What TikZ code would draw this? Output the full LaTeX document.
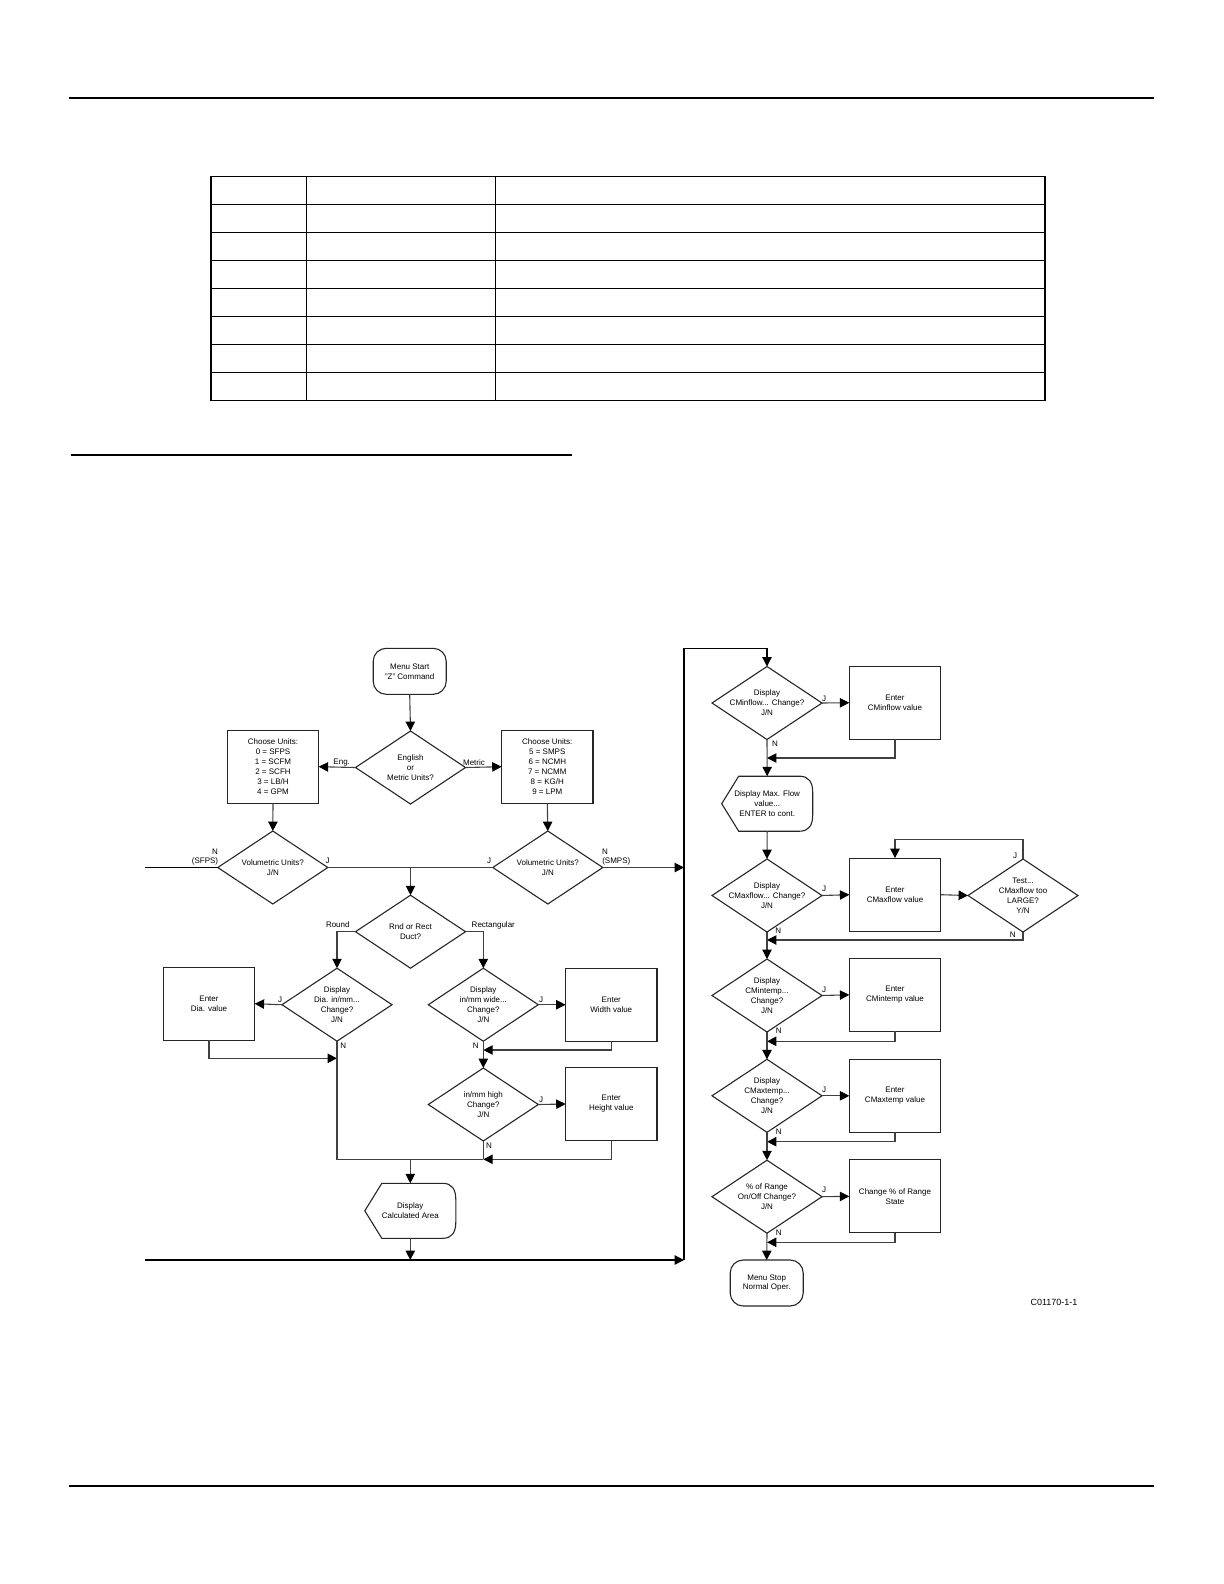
\documentclass[tikz,border=0pt]{standalone}
\usepackage{fontspec}
\setmainfont{Liberation Sans}
\usetikzlibrary{arrows.meta,shapes.geometric,calc}
\newcommand\fcfont{\fontsize{4bp}{4.95bp}\selectfont}
\newcommand\dispshape[1]{%
  \draw[shp] (#1.west) -- ($(#1.north west)+(17,0)$) -- ($(#1.north east)+(-13,0)$)
    .. controls ($(#1.north east)+(-4,0)$) and ($(#1.north east)+(0,6)$) .. ($(#1.north east)+(0,16)$)
    -- ($(#1.south east)+(0,-16)$)
    .. controls ($(#1.south east)+(0,-6)$) and ($(#1.south east)+(-4,0)$) .. ($(#1.south east)+(-13,0)$)
    -- ($(#1.south west)+(17,0)$) -- cycle;}
\tikzset{
  shp/.style={draw=black!85, line width=0.55bp},
  conn/.style={draw=black!75, line width=0.55bp},
  mainline/.style={draw=black, line width=0.6bp},
  tbl/.style={draw=black, line width=0.6bp},
  arr/.style={conn, -{Triangle[length=4.7bp,width=4.7bp,black]}},
  dec/.style={diamond, shp, aspect=1.5, inner xsep=-6bp, inner ysep=-3bp, outer sep=0pt,
    minimum width=55bp, minimum height=36.5bp, align=center, font=\fcfont},
  boxn/.style={rectangle, shp, inner sep=0pt, outer sep=0pt, minimum width=45.7bp,
    minimum height=36.6bp, align=center, font=\fcfont},
  term/.style={rectangle, shp, rounded corners=6.5bp, inner sep=0pt, outer sep=0pt,
    minimum width=36.5bp, minimum height=23bp, align=center, font=\fcfont},
  disp/.style={rectangle, draw=none, inner sep=0pt, outer sep=0pt, minimum width=45.5bp,
    minimum height=27.5bp, align=center, font=\fcfont},
  lbl/.style={font=\fcfont, inner sep=0pt},
}
\begin{document}
\begin{tikzpicture}[x=0.5bp,y=-0.5bp]
\useasboundingbox (0,0) rectangle (1224,1584);
% page rules
\draw[line width=1bp] (69,98) -- (1154,98);
\draw[line width=1bp] (69,1485.5) -- (1154,1485.5);
\draw[line width=0.7bp] (71,455) -- (572,455);
% empty table
\draw[tbl] (211,176.3) rectangle (1045,400.3);
\foreach \yy in {204.3,232.3,260.3,288.3,316.3,344.3,372.3}
  \draw[tbl] (211,\yy) -- (1045,\yy);
\foreach \xx in {306.5,495.3}
  \draw[tbl] (\xx,176.3) -- (\xx,400.3);

% ---------- left part ----------
\node[term] (ms) at (409.7,671.3) {Menu Start\\"Z" Command};
\node[dec] (em) at (410.5,767.5) {English\\or\\Metric Units?};
\node[boxn] (cu1) at (273,766.7) {Choose Units:\\0 = SFPS\\1 = SCFM\\2 = SCFH\\3 = LB/H\\4 = GPM};
\node[boxn] (cu2) at (547.3,766.7) {Choose Units:\\5 = SMPS\\6 = NCMH\\7 = NCMM\\8 = KG/H\\9 = LPM};
\node[dec] (vu1) at (272.8,867.5) {Volumetric Units?\\J/N};
\node[dec] (vu2) at (547.8,867.5) {Volumetric Units?\\J/N};
\node[dec] (rr) at (410.5,931.7) {Rnd or Rect\\Duct?};
\node[dec] (dd) at (337,1004.7) {Display\\Dia. in/mm...\\Change?\\J/N};
\node[boxn] (ed) at (209,1003.7) {Enter\\Dia. value};
\node[dec] (dw) at (483.3,1004.7) {Display\\in/mm wide...\\Change?\\J/N};
\node[boxn] (ew) at (611.3,1004.7) {Enter\\Width value};
\node[dec] (dh) at (483.3,1104.5) {in/mm high\\Change?\\J/N};
\node[boxn] (eh) at (611.3,1104) {Enter\\Height value};
\node[disp] (da) at (410.3,1210.8) {Display\\Calculated Area};
\dispshape{da}

% ---------- right part ----------
\node[dec] (cmin) at (767,703) {Display\\CMinflow... Change?\\J/N};
\node[boxn] (ecmin) at (895,702.7) {Enter\\CMinflow value};
\node[disp] (dmf) at (767.2,803.7) {Display Max. Flow\\value...\\ENTER to cont.};
\dispshape{dmf}
\node[dec] (cmax) at (767,895.5) {Display\\CMaxflow... Change?\\J/N};
\node[boxn] (ecmax) at (895,894.7) {Enter\\CMaxflow value};
\node[dec] (tst) at (1023,895.5) {Test...\\CMaxflow too\\LARGE?\\Y/N};
\node[dec] (cmint) at (767,995.5) {Display\\CMintemp...\\Change?\\J/N};
\node[boxn] (ecmint) at (895,994.8) {Enter\\CMintemp value};
\node[dec] (cmaxt) at (767,1095.8) {Display\\CMaxtemp...\\Change?\\J/N};
\node[boxn] (ecmaxt) at (895,1095.8) {Enter\\CMaxtemp value};
\node[dec] (rng) at (767,1196.7) {\% of Range\\On/Off Change?\\J/N};
\node[boxn] (crng) at (895,1196.3) {Change \% of Range\\State};
\node[term] (mstop) at (766.7,1283) {Menu Stop\\Normal Oper.};

% ---------- coordinates ----------
\coordinate (vtop) at (684,648.3);
\coordinate (vbot) at (684,1260);
\coordinate (vin1) at (684,867.5);
\coordinate (lf1) at (145,867.5);
\coordinate (lf2) at (145,1260);
\coordinate (j1) at (410.5,867.5);
\coordinate (jd) at (337,1058.3);
\coordinate (c1) at (337,1159.3);
\coordinate (c2) at (483.3,1159.3);
\coordinate (j2) at (410.3,1159.3);
\coordinate (j3) at (410.3,1260);
\coordinate (jw) at (483.3,1050);
\coordinate (r1) at (767,758);
\coordinate (tloop) at (1023,839.3);
\coordinate (r2) at (767,940);
\coordinate (r3) at (767,1041.3);
\coordinate (r4) at (767,1141.7);
\coordinate (r5) at (767,1242.3);

% ---------- connectors left ----------
\draw[arr] (ms.south) -- (em.north);
\draw[arr] (em.west) -- (cu1.east);
\draw[arr] (em.east) -- (cu2.west);
\draw[arr] (cu1.south) -- (vu1.north);
\draw[arr] (cu2.south) -- (vu2.north);
\draw[conn,mainline] (vu1.west) -- (lf1);
\draw[conn] (vu1.east) -- (vu2.west);
\draw[arr] (j1) -- (rr.north);
\draw[arr] (vu2.east) -- (vin1);
\draw[arr] (rr.west) -| (dd.north);
\draw[arr] (rr.east) -| (dw.north);
\draw[arr] (dd.west) -- (ed.east);
\draw[arr] (dw.east) -- (ew.west);
\draw[arr] (ed.south) |- (jd);
\draw[conn] (dd.south) -- (c1) -- (c2);
\draw[arr] (ew.south) |- (jw);
\draw[arr] (dw.south) -- (dh.north);
\draw[arr] (dh.east) -- (eh.west);
\draw[arr] (eh.south) |- (c2);
\draw[conn] (dh.south) -- (c2);
\draw[arr] (j2) -- (da.north);
\draw[arr] (da.south) -- (j3);
\draw[arr,mainline] (lf2) -- (vbot);

% ---------- connectors right ----------
\draw[arr,mainline] (vbot) -- (vtop) -| (cmin.north);
\draw[arr] (cmin.east) -- (ecmin.west);
\draw[arr] (ecmin.south) |- (r1);
\draw[arr] (cmin.south) -- (dmf.north);
\draw[arr] (dmf.south) -- (cmax.north);
\draw[arr] (cmax.east) -- (ecmax.west);
\draw[arr] (ecmax.east) -- (tst.west);
\draw[arr] (tst.north) -- (tloop) -| (ecmax.north);
\draw[arr] (tst.south) |- (r2);
\draw[arr] (cmax.south) -- (cmint.north);
\draw[arr] (cmint.east) -- (ecmint.west);
\draw[arr] (ecmint.south) |- (r3);
\draw[arr] (cmint.south) -- (cmaxt.north);
\draw[arr] (cmaxt.east) -- (ecmaxt.west);
\draw[arr] (ecmaxt.south) |- (r4);
\draw[arr] (cmaxt.south) -- (rng.north);
\draw[arr] (rng.east) -- (crng.west);
\draw[arr] (crng.south) |- (r5);
\draw[arr] (rng.south) -- (mstop.north);

% ---------- labels ----------
\node[lbl] (lEng) at (341.7,762.5) {Eng.};
\node[lbl] (lMet) at (474,762.5) {Metric};
\node[lbl] (lN1) at (215,851.7) {N};
\node[lbl] (lS1) at (205,861.7) {(SFPS)};
\node[lbl] (lJ1) at (327.7,861) {J};
\node[lbl] (lJ2) at (489,861) {J};
\node[lbl] (lN2) at (605,851.7) {N};
\node[lbl] (lS2) at (616.3,861.7) {(SMPS)};
\node[lbl] (lRd) at (337.8,925) {Round};
\node[lbl] (lRc) at (493.3,925) {Rectangular};
\node[lbl] (lJ3) at (280,1000) {J};
\node[lbl] (lN3) at (343.3,1046) {N};
\node[lbl] (lJ4) at (541,1000) {J};
\node[lbl] (lN4) at (475.7,1046) {N};
\node[lbl] (lJ5) at (541,1099.3) {J};
\node[lbl] (lN5) at (489,1146) {N};
\node[lbl] (lJ6) at (824,698.3) {J};
\node[lbl] (lN6) at (775,744) {N};
\node[lbl] (lJ7) at (824,888.3) {J};
\node[lbl] (lN7) at (778.3,931) {N};
\node[lbl] (lJ8) at (1015,856) {J};
\node[lbl] (lN8) at (1012.7,934.3) {N};
\node[lbl] (lJ9) at (824,989.3) {J};
\node[lbl] (lN9) at (778.7,1031) {N};
\node[lbl] (lJ10) at (824,1090) {J};
\node[lbl] (lN10) at (778.7,1131.7) {N};
\node[lbl] (lJ11) at (824,1189.3) {J};
\node[lbl] (lN11) at (778.7,1232.7) {N};
\node[font=\fontsize{4.5bp}{5.5bp}\selectfont, inner sep=0pt] (lCode) at (1054,1302.3) {C01170-1-1};
\end{tikzpicture}
\end{document}
